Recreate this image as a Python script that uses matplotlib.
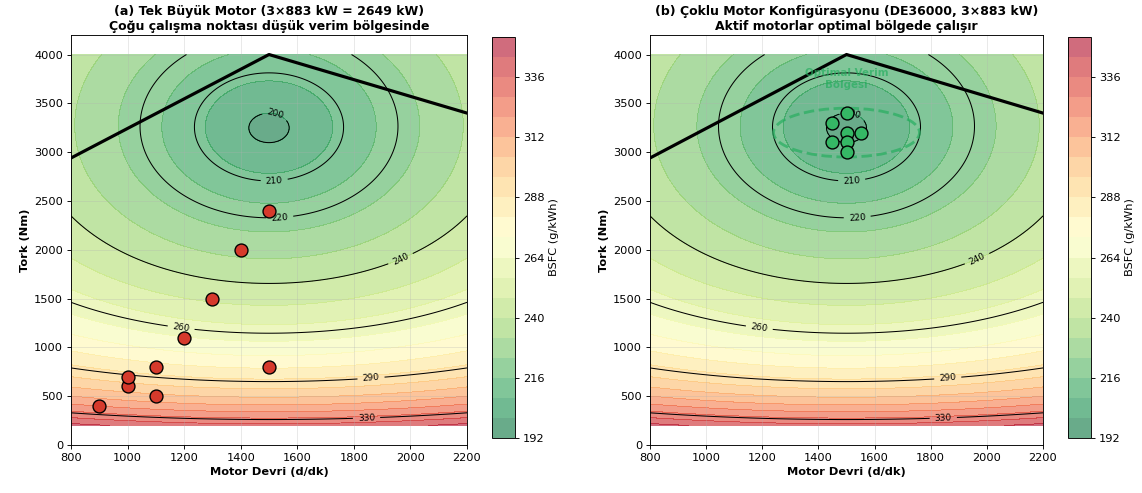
import numpy as np
import matplotlib
matplotlib.use('Agg')
import matplotlib.pyplot as plt
from matplotlib.patches import Ellipse

# --- data ---
# BSFC map model (centre of the efficiency island, scale factors, low-load penalty)
bsfc_min = 196.0
n_opt, t_opt = 1500.0, 3245.0
k_rpm, k_torque = 0.052, 0.0245
low_load_amp, low_load_len = 97.0, 560.0

rpm_range = (800, 2200)
torque_range = (200, 4000)

contour_levels = [200, 210, 220, 240, 260, 290, 330]
fill_levels = np.arange(192, 353, 8)
# where the contour labels sit (rpm, torque)
label_spots = [(1520, 3370), (1520, 2640), (1540, 2256), (1970, 1880),
               (1190, 1213), (1860, 708), (1845, 263)]

# max torque curve
max_rpm = [800, 1500, 2200]
max_torque = [2940, 4000, 3400]

# (a) single large engine operating points
single_rpm = [900, 1000, 1000, 1100, 1100, 1200, 1300, 1400, 1500, 1500]
single_torque = [400, 600, 700, 500, 800, 1100, 1500, 2000, 2400, 800]

# (b) multi engine operating points
multi_rpm = [1500, 1450, 1500, 1550, 1450, 1500, 1500]
multi_torque = [3400, 3300, 3200, 3200, 3100, 3100, 3000]

# optimal zone ellipse
zone_center = (1500, 3200)
zone_width, zone_height = 520, 500

titles = ['(a) Tek Büyük Motor (3×883 kW = 2649 kW)\nÇoğu çalışma noktası düşük verim bölgesinde',
          '(b) Çoklu Motor Konfigürasyonu (DE36000, 3×883 kW)\nAktif motorlar optimal bölgede çalışır']


def bsfc_map(n, t):
    r = np.sqrt((k_rpm * (n - n_opt))**2 + (k_torque * (t - t_opt))**2)
    return bsfc_min + r + low_load_amp * np.exp(-t / low_load_len)


n = np.linspace(rpm_range[0], rpm_range[1], 300)
t = np.linspace(torque_range[0], torque_range[1], 300)
N, T = np.meshgrid(n, t)
B = bsfc_map(N, T)

fig = plt.figure(figsize=(14, 493 / (1142 / 14)), dpi=1142 / 14)

ax_pos = [[71, 35, 467, 445], [650, 35, 1043, 445]]
cb_pos = [[492, 37, 515, 438], [1068, 37, 1091, 438]]
W, H = 1142.0, 493.0


def frac(box):
    x0, y0, x1, y1 = box
    return [x0 / W, 1 - y1 / H, (x1 - x0) / W, (y1 - y0) / H]


for i in range(2):
    ax = fig.add_axes(frac(ax_pos[i]))
    cax = fig.add_axes(frac(cb_pos[i]))

    cf = ax.contourf(N, T, B, levels=fill_levels, cmap='RdYlGn_r', alpha=0.6)
    cs = ax.contour(N, T, B, levels=contour_levels, colors='black', linewidths=0.9)
    ax.clabel(cs, inline=True, fontsize=8, fmt='%d', manual=label_spots)

    ax.plot(max_rpm, max_torque, 'k-', lw=2.8)

    if i == 0:
        ax.scatter(single_rpm, single_torque, s=130, c='#d63a2c', edgecolors='black',
                   linewidths=1.2, zorder=5)
    else:
        ax.scatter(multi_rpm, multi_torque, s=130, c='#35b865', edgecolors='black',
                   linewidths=1.2, zorder=5)
        ell = Ellipse(zone_center, zone_width, zone_height, fill=False,
                      edgecolor='#27ae60', linestyle='--', lw=2.5, alpha=0.7, zorder=4)
        ax.add_patch(ell)
        ax.text(1500, 3750, 'Optimal Verim\nBölgesi', ha='center', va='center',
                fontsize=9, fontweight='bold', color='#27ae60', alpha=0.7)

    ax.set_xlim(800, 2200)
    ax.set_ylim(0, 4200)
    ax.set_xlabel('Motor Devri (d/dk)', fontsize=10, fontweight='bold')
    ax.set_ylabel('Tork (Nm)', fontsize=10, fontweight='bold')
    ax.set_title(titles[i], fontsize=11, fontweight='bold', pad=4)
    ax.grid(True, alpha=0.3)

    cb = fig.colorbar(cf, cax=cax)
    cb.set_label('BSFC (g/kWh)', fontsize=10)

fig.savefig('out.png', dpi=1142 / 14)
